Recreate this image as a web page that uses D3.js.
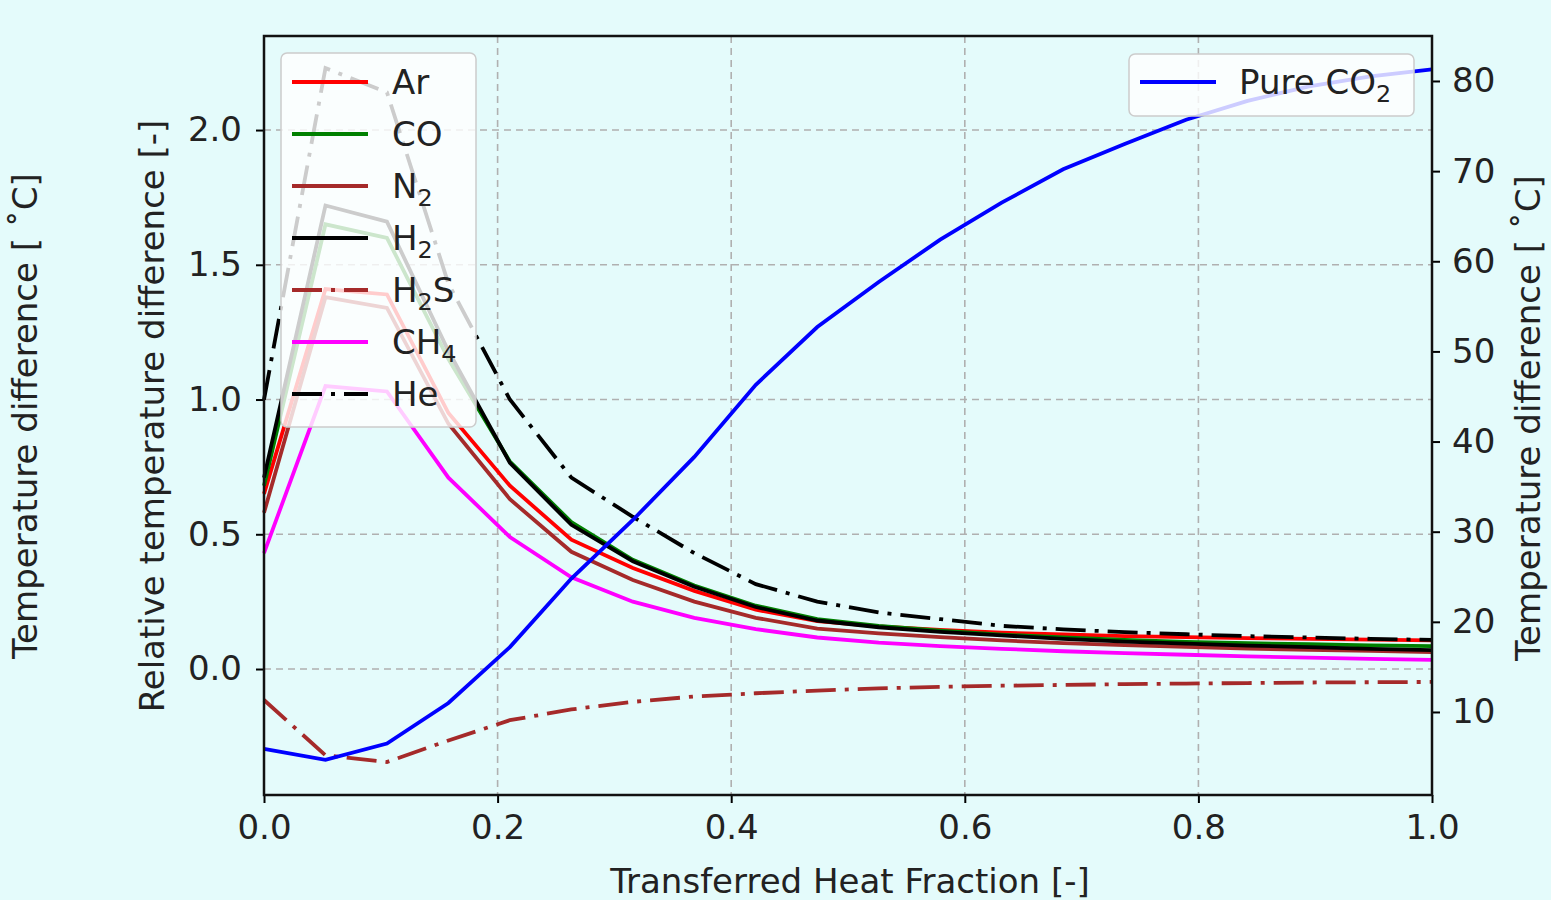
<!DOCTYPE html>
<html>
<head>
<meta charset="UTF-8">
<title>Temperature difference vs transferred heat fraction</title>
<script src="https://d3js.org/d3.v7.min.js"></script>
<style>
  body { margin: 0; background: #e4fbfb; }
  svg { display: block; font-family: "DejaVu Sans", sans-serif; }
</style>
</head>
<body>
<svg width="1551" height="900"></svg>
<script>
// x positions: 20 evenly spaced samples of the transferred heat fraction
const xs = d3.range(20).map(i => i / 19);

const ar  = [0.65, 1.41, 1.39, 0.95, 0.68, 0.48, 0.375, 0.29, 0.22, 0.178, 0.158, 0.145, 0.135, 0.128, 0.122, 0.118, 0.115, 0.112, 0.109, 0.106];
const co  = [0.68, 1.65, 1.60, 1.15, 0.77, 0.545, 0.405, 0.31, 0.235, 0.185, 0.16, 0.142, 0.128, 0.117, 0.108, 0.101, 0.096, 0.092, 0.088, 0.085];
const n2  = [0.58, 1.38, 1.34, 0.91, 0.63, 0.435, 0.33, 0.25, 0.19, 0.15, 0.132, 0.118, 0.106, 0.096, 0.089, 0.082, 0.076, 0.071, 0.067, 0.063];
const h2  = [0.71, 1.72, 1.66, 1.18, 0.765, 0.535, 0.40, 0.305, 0.23, 0.18, 0.155, 0.138, 0.125, 0.112, 0.102, 0.094, 0.087, 0.081, 0.075, 0.07];
const h2s = [-0.115, -0.32, -0.345, -0.265, -0.19, -0.15, -0.122, -0.102, -0.09, -0.08, -0.072, -0.066, -0.062, -0.059, -0.056, -0.054, -0.052, -0.05, -0.049, -0.048];
const ch4 = [0.43, 1.05, 1.03, 0.71, 0.49, 0.34, 0.25, 0.19, 0.148, 0.117, 0.098, 0.085, 0.075, 0.066, 0.059, 0.053, 0.047, 0.042, 0.038, 0.034];
const he  = [1.0, 2.23, 2.14, 1.43, 1.0, 0.71, 0.565, 0.43, 0.315, 0.25, 0.21, 0.185, 0.16, 0.147, 0.137, 0.129, 0.122, 0.117, 0.112, 0.108];
const pureCO2 = [5.9, 4.7, 6.5, 11.0, 17.2, 24.8, 31.3, 38.3, 46.3, 52.7, 57.7, 62.4, 66.5, 70.2, 73.0, 75.7, 77.8, 79.4, 80.5, 81.3];

const xTicks = [0, 0.2, 0.4, 0.6, 0.8, 1.0];
const yTicks = [0, 0.5, 1.0, 1.5, 2.0];
const y2Ticks = [10, 20, 30, 40, 50, 60, 70, 80];

const left = [
  {name: ["Ar"], values: ar, color: "#ff0000", dash: null},
  {name: ["CO"], values: co, color: "#008000", dash: null},
  {name: ["N", "2"], values: n2, color: "#a52a2a", dash: null},
  {name: ["H", "2"], values: h2, color: "#000000", dash: null},
  {name: ["H", "2", "S"], values: h2s, color: "#a52a2a", dash: "30,9,4,9"},
  {name: ["CH", "4"], values: ch4, color: "#ff00ff", dash: null},
  {name: ["He"], values: he, color: "#000000", dash: "30,9,4,9"}
];

const svg = d3.select("svg");
const x0 = 264, x1 = 1432, yTop = 36, yBot = 795;
const fs = 34, lw = 3.8;

const x = d3.scaleLinear().domain([0, 1]).range([x0, x1]);
const y = d3.scaleLinear().domain([-0.4675, 2.349]).range([yBot, yTop]);
const y2 = d3.scaleLinear().domain([0.79, 84.99]).range([yBot, yTop]);

// grid
const grid = svg.append("g").attr("stroke", "#b0b0b0").attr("stroke-width", 1.6).attr("stroke-dasharray", "7,5");
xTicks.slice(1, -1).forEach(t => grid.append("line").attr("x1", x(t)).attr("x2", x(t)).attr("y1", yTop).attr("y2", yBot));
yTicks.forEach(t => grid.append("line").attr("x1", x0).attr("x2", x1).attr("y1", y(t)).attr("y2", y(t)));

const line = d3.line().x((d, i) => x(xs[i])).y(d => y(d));
const line2 = d3.line().x((d, i) => x(xs[i])).y(d => y2(d));

const plot = svg.append("g");
left.forEach(s => {
  plot.append("path").attr("d", line(s.values))
    .attr("fill", "none").attr("stroke", s.color).attr("stroke-width", lw)
    .attr("stroke-dasharray", s.dash);
});

function label(sel, parts, size) {
  parts.forEach((p, i) => {
    const sub = (i % 2 === 1);
    sel.append("tspan").text(p)
      .attr("font-size", sub ? size * 0.7 : size)
      .attr("dy", sub ? 8 : (i > 0 ? -8 : 0));
  });
}

// left legend
const lg = svg.append("g");
lg.append("rect").attr("x", 281).attr("y", 53).attr("width", 195).attr("height", 374).attr("rx", 6)
  .attr("fill", "#ffffff").attr("fill-opacity", 0.8).attr("stroke", "#cccccc").attr("stroke-width", 1.5);
left.forEach((s, i) => {
  const yy = 82 + i * 52;
  lg.append("line").attr("x1", 292).attr("x2", 368).attr("y1", yy).attr("y2", yy)
    .attr("stroke", s.color).attr("stroke-width", lw).attr("stroke-dasharray", s.dash);
  const t = lg.append("text").attr("x", 392).attr("y", yy + 12).attr("fill", "#222");
  label(t, s.name, fs);
});

// right series
svg.append("path").attr("d", line2(pureCO2))
  .attr("fill", "none").attr("stroke", "#0000ff").attr("stroke-width", lw);

// right legend
const rg = svg.append("g");
rg.append("rect").attr("x", 1129).attr("y", 54).attr("width", 285).attr("height", 62).attr("rx", 6)
  .attr("fill", "#ffffff").attr("fill-opacity", 0.8).attr("stroke", "#cccccc").attr("stroke-width", 1.5);
rg.append("line").attr("x1", 1140).attr("x2", 1216).attr("y1", 82).attr("y2", 82)
  .attr("stroke", "#0000ff").attr("stroke-width", lw);
label(rg.append("text").attr("x", 1239).attr("y", 94).attr("fill", "#222"), ["Pure CO", "2"], fs);

// axes
const axisStyle = g => {
  g.select(".domain").remove();
  g.selectAll(".tick line").attr("stroke", "#000").attr("stroke-width", 2);
  g.selectAll(".tick text").attr("font-size", fs).attr("fill", "#222").attr("font-family", "DejaVu Sans");
};
svg.append("g").attr("transform", `translate(0,${yBot})`)
  .call(d3.axisBottom(x).tickValues(xTicks).tickFormat(d3.format(".1f")).tickSize(8).tickPadding(12))
  .call(axisStyle);
svg.append("g").attr("transform", `translate(${x0},0)`)
  .call(d3.axisLeft(y).tickValues(yTicks).tickFormat(d3.format(".1f")).tickSize(8).tickPadding(14))
  .call(axisStyle);
svg.append("g").attr("transform", `translate(${x1},0)`)
  .call(d3.axisRight(y2).tickValues(y2Ticks).tickSize(8).tickPadding(12))
  .call(axisStyle);

svg.append("rect").attr("x", x0).attr("y", yTop).attr("width", x1 - x0).attr("height", yBot - yTop)
  .attr("fill", "none").attr("stroke", "#111").attr("stroke-width", 2.5);

// axis titles
svg.append("text").attr("x", (x0 + x1) / 2 + 2).attr("y", 893).attr("text-anchor", "middle")
  .attr("font-size", fs).attr("fill", "#222").text("Transferred Heat Fraction [-]");
svg.append("text").attr("transform", "translate(164,416) rotate(-90)").attr("text-anchor", "middle")
  .attr("font-size", fs).attr("fill", "#222").text("Relative temperature difference [-]");
svg.append("text").attr("transform", "translate(37,416) rotate(-90)").attr("text-anchor", "middle")
  .attr("font-size", fs).attr("fill", "#222").text("Temperature difference [ \u02DAC]");
svg.append("text").attr("transform", "translate(1540,418) rotate(-90)").attr("text-anchor", "middle")
  .attr("font-size", fs).attr("fill", "#222").text("Temperature difference [ \u02DAC]");
</script>
</body>
</html>
